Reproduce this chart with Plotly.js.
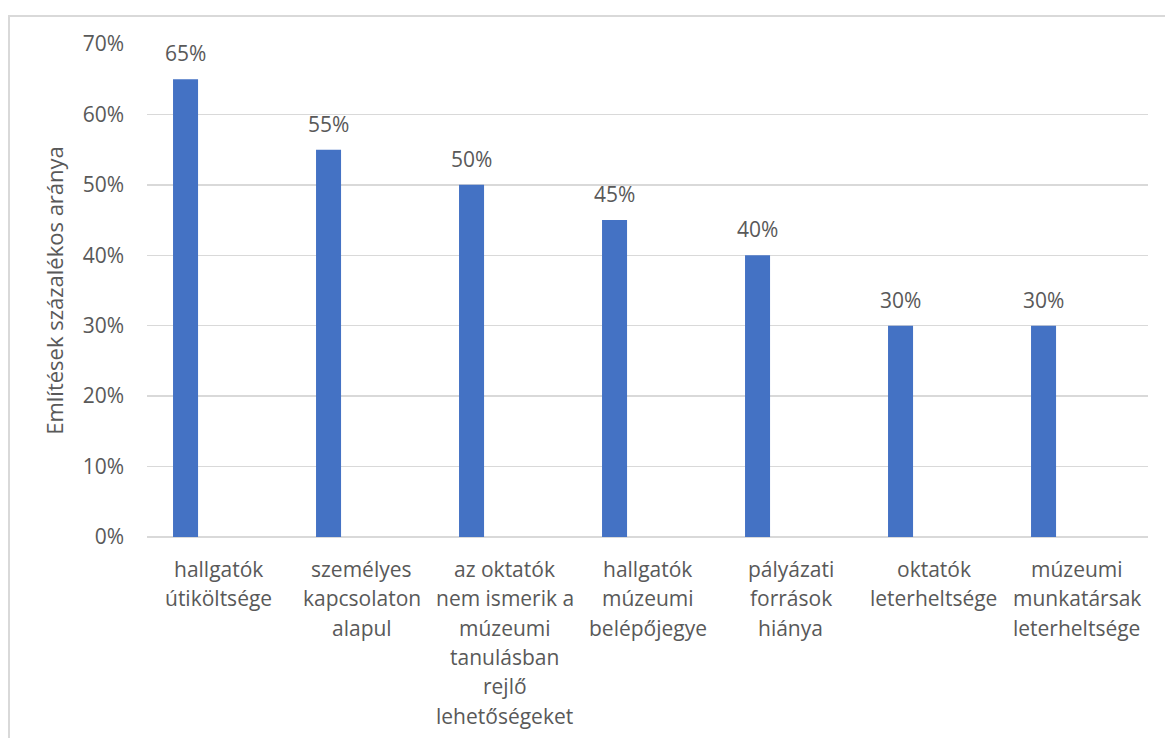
<!DOCTYPE html>
<html>
<head>
<meta charset="utf-8">
<script src="https://cdn.plot.ly/plotly-3.0.1.min.js"></script>
<style>
  html, body { margin: 0; padding: 0; background: #ffffff; }
  #frame { position: absolute; left: 8px; top: 15px; width: 1200px; height: 800px;
           border-left: 2px solid #d9d9d9; border-top: 2px solid #d9d9d9; box-sizing: border-box; }
  #chart { position: absolute; left: 0; top: 0; width: 1165px; height: 738px; }
</style>
</head>
<body>
<div id="frame"></div>
<div id="chart"></div>
<script>
// ---- data ----
const categories = [
  "hallgatók<br>útiköltsége",
  "személyes<br>kapcsolaton<br>alapul",
  "az oktatók<br>nem ismerik a<br>múzeumi<br>tanulásban<br>rejlő<br>lehetőségeket",
  "hallgatók<br>múzeumi<br>belépőjegye",
  "pályázati<br>források<br>hiánya",
  "oktatók<br>leterheltsége",
  "múzeumi<br>munkatársak<br>leterheltsége"
];
const values = [0.65, 0.55, 0.50, 0.45, 0.40, 0.30, 0.30];
const valueLabels = ["65%", "55%", "50%", "45%", "40%", "30%", "30%"];
const yTickValues = [0, 0.1, 0.2, 0.3, 0.4, 0.5, 0.6, 0.7];
const yTickLabels = ["0%", "10%", "20%", "30%", "40%", "50%", "60%", "70%"];
const yAxisTitle = "Említések százalékos aránya";

// ---- style ----
const FONT = "Open Sans, DejaVu Sans, sans-serif";
const TEXT_COLOR = "#595959";
const BAR_COLOR = "#4472c4";
const barWidth = 0.175;
const barOffset = -0.318;
const fontSize = 21;
const titleSize = 22;
const lineStep = 29.3;

const idx = categories.map((_, i) => i);

const trace = {
  type: "bar",
  x: idx,
  y: values,
  width: barWidth,
  offset: barOffset,
  marker: { color: BAR_COLOR },
  hoverinfo: "skip"
};

const annotations = [];
// value labels above bars
values.forEach((v, i) => {
  annotations.push({
    x: i + barOffset + barWidth / 2, y: v, xref: "x", yref: "y",
    text: valueLabels[i], showarrow: false, yanchor: "bottom", xanchor: "center",
    yshift: 10, font: { family: FONT, size: fontSize, color: TEXT_COLOR }
  });
});
// category labels, line by line
categories.forEach((c, i) => {
  c.split("<br>").forEach((line, j) => {
    annotations.push({
      x: i, y: 0, xref: "x", yref: "y",
      text: line, showarrow: false, yanchor: "middle", xanchor: "center",
      yshift: -(32 + j * lineStep), font: { family: FONT, size: fontSize, color: TEXT_COLOR }
    });
  });
});

const layout = {
  width: 1165, height: 738,
  margin: { l: 147, r: 17, t: 44, b: 201 },
  paper_bgcolor: "rgba(0,0,0,0)",
  plot_bgcolor: "rgba(0,0,0,0)",
  showlegend: false,
  font: { family: FONT, size: fontSize, color: TEXT_COLOR },
  xaxis: {
    type: "linear",
    range: [-0.5, categories.length - 0.5],
    showticklabels: false, showgrid: false, zeroline: false, ticks: "",
    showline: false, fixedrange: true
  },
  yaxis: {
    range: [0, 0.7],
    tickvals: yTickValues, ticktext: yTickLabels,
    showgrid: true, gridcolor: "#d9d9d9", gridwidth: 1.5,
    zeroline: true, zerolinecolor: "#d9d9d9", zerolinewidth: 1.5,
    showline: false, ticks: "", ticklabelstandoff: 22,
    tickfont: { family: FONT, size: fontSize, color: TEXT_COLOR },
    title: { text: yAxisTitle, standoff: 12, font: { family: FONT, size: titleSize, color: TEXT_COLOR } },
    fixedrange: true
  },
  annotations: annotations
};

Plotly.newPlot("chart", [trace], layout, { displayModeBar: false, staticPlot: true });
</script>
</body>
</html>
